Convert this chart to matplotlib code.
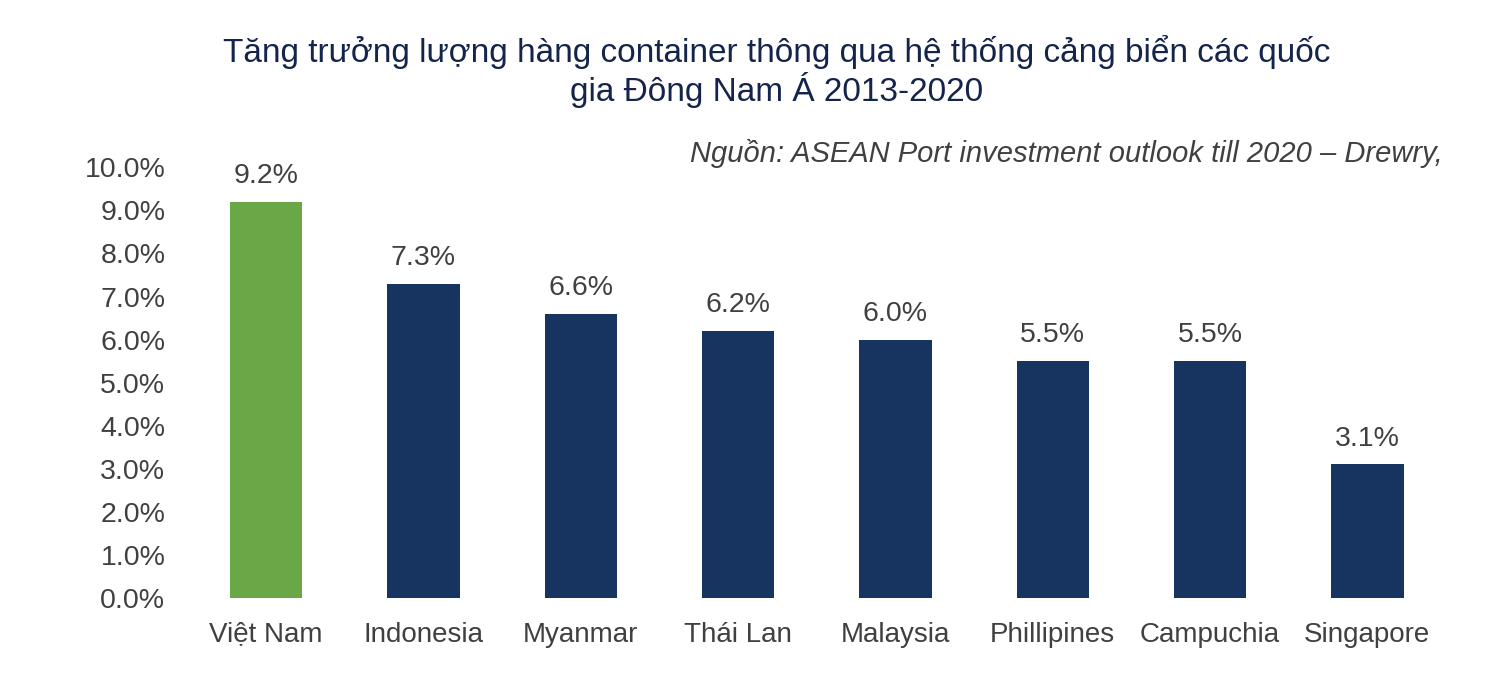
import matplotlib.pyplot as plt
import numpy as np

plt.rcParams['font.family'] = ['Liberation Sans', 'DejaVu Sans']

countries = ['Việt Nam', 'Indonesia', 'Myanmar', 'Thái Lan', 'Malaysia',
             'Phillipines', 'Campuchia', 'Singapore']
growth = [9.2, 7.3, 6.6, 6.2, 6.0, 5.5, 5.5, 3.1]
colors = ['#6aa746'] + ['#17335f'] * 7

title = 'Tăng trưởng lượng hàng container thông qua hệ thống cảng biển các quốc\ngia Đông Nam Á 2013-2020'
source = 'Nguồn: ASEAN Port investment outlook till 2020 – Drewry,'

fig = plt.figure(figsize=(15, 6.97), dpi=100)
ax = fig.add_axes([0.125, 0.142, 0.839, 0.618])

x = np.arange(len(countries))
ax.bar(x, growth, width=0.46, color=colors, zorder=2)

# value labels above each bar
for xi, v in zip(x, growth):
    ax.text(xi, v + 0.3, f'{v:.1f}%', ha='center', va='bottom',
            fontsize=20.5, color='#404040')

ax.set_xlim(-0.5, len(countries) - 0.5)
ax.set_ylim(0, 10)
ax.set_yticks(np.arange(0, 10.5, 1))
ax.set_yticklabels([f'{t:.1f}%' for t in np.arange(0, 10.5, 1)])
ax.set_xticks(x)
ax.set_xticklabels(countries)
ax.tick_params(axis='both', length=0, labelcolor='#404040')
ax.tick_params(axis='x', pad=17, labelsize=20)
ax.tick_params(axis='y', pad=16, labelsize=20.5)
for s in ax.spines.values():
    s.set_visible(False)

fig.text(0.518, 0.898, title, ha='center', va='center', fontsize=24,
         color='#14244a', linespacing=1.1)
fig.text(0.962, 0.78, source, ha='right', va='center', fontsize=21,
         style='italic', color='#404040')

fig.savefig('out.png', dpi=100)
